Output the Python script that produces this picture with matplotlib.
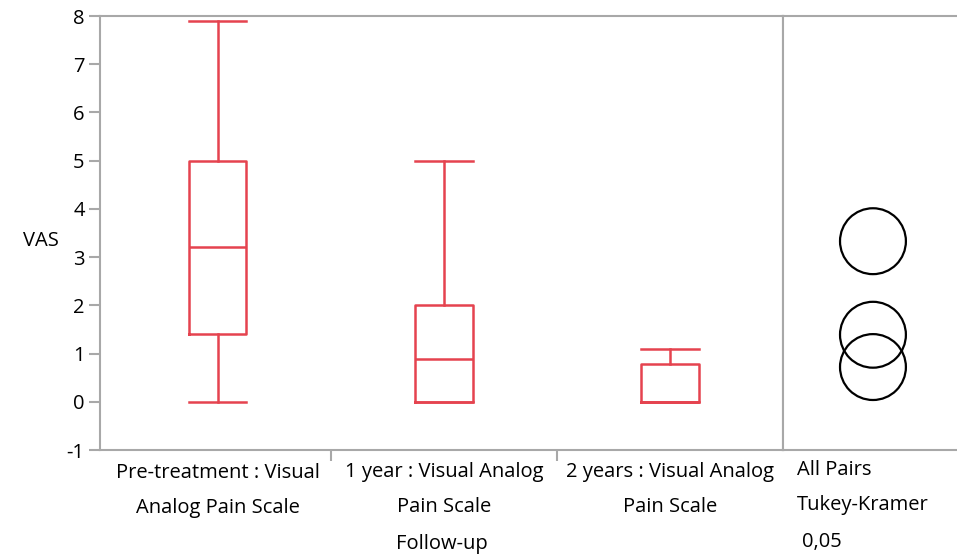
import matplotlib.pyplot as plt

# data
groups = ['Pre-treatment : Visual\nAnalog Pain Scale',
          '1 year : Visual Analog\nPain Scale',
          '2 years : Visual Analog\nPain Scale']
q1 = [1.4, 0.0, 0.0]
med = [3.2, 0.88, 0.0]
q3 = [5.0, 2.0, 0.78]
whis_lo = [0.0, 0.0, 0.0]
whis_hi = [7.9, 5.0, 1.1]
circle_centers = [3.33, 1.39, 0.72]

red = '#e5434f'
grey = '#a8a8a8'
plt.rcParams['font.family'] = ['Open Sans', 'DejaVu Sans']
plt.rcParams['axes.unicode_minus'] = False
fs = 14.5

fig = plt.figure(figsize=(9.57, 5.57), dpi=100)
ax = fig.add_axes([100/957, 107/557, 683/957, 434/557])
ax2 = fig.add_axes([783/957, 107/557, 174/957, 434/557], sharey=ax)

stats = []
for i in range(len(groups)):
    stats.append({'q1': q1[i], 'med': med[i], 'q3': q3[i],
                  'whislo': whis_lo[i], 'whishi': whis_hi[i], 'fliers': []})
lp = dict(color=red, linewidth=1.8)
ax.bxp(stats, positions=range(len(groups)), widths=0.255, capwidths=0.255,
       boxprops=lp, whiskerprops=lp, capprops=lp, medianprops=lp,
       showfliers=False)

ax.set_xlim(-0.52, 2.5)
ax.set_ylim(-1, 8)
ax.set_yticks(range(-1, 9))
ax.set_xticks(range(len(groups)))
ax.set_xticklabels(groups, linespacing=2.0, fontsize=fs)
ax.set_xticks([0.5, 1.5], minor=True)
ax.tick_params(axis='x', which='major', length=0, pad=9)
ax.tick_params(axis='x', which='minor', length=8, width=1.5, color=grey)
ax.tick_params(axis='y', length=8, width=1.5, color=grey, labelsize=fs, pad=3)
ax.set_xlabel('Follow-up', fontsize=fs, labelpad=12)
for s in ['left', 'top', 'bottom', 'right']:
    ax.spines[s].set_color(grey)
    ax.spines[s].set_linewidth(1.5)

# comparison circles panel
ax2.scatter([0.517] * len(circle_centers), circle_centers, s=2250,
            facecolors='none', edgecolors='black', linewidths=1.6)
ax2.set_xlim(0, 1)
ax2.tick_params(left=False, labelleft=False, bottom=False, labelbottom=False)
ax2.spines['right'].set_visible(False)
for s in ['left', 'top', 'bottom']:
    ax2.spines[s].set_color(grey)
    ax2.spines[s].set_linewidth(1.5)

fig.text(797/957, 1 - 470/557, 'All Pairs', fontsize=fs, va='center')
fig.text(797/957, 1 - 505/557, 'Tukey-Kramer', fontsize=fs, va='center')
fig.text(802/957, 1 - 542/557, '0,05', fontsize=fs, va='center')
fig.text(41/957, 1 - 241/557, 'VAS', fontsize=fs, va='center', ha='center')

fig.savefig('out.png', dpi=100)
